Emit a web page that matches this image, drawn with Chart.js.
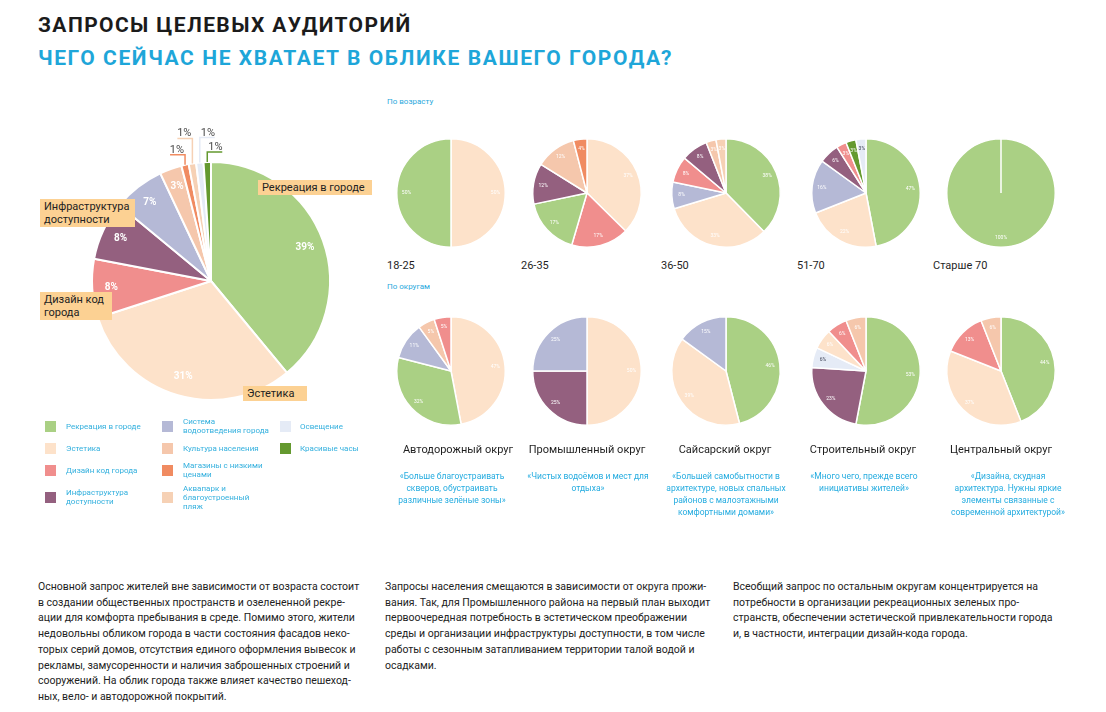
<!DOCTYPE html>
<html lang="ru">
<head>
<meta charset="utf-8">
<title>Запросы целевых аудиторий</title>
<script src="https://cdn.jsdelivr.net/npm/chart.js@4.4.0/dist/chart.umd.min.js"></script>
<style>
  body { margin: 0; width: 1106px; height: 712px; background: #fff; position: relative; overflow: hidden;
         font-family: Roboto, "Noto Sans", sans-serif; color: #222; }
  .abs { position: absolute; white-space: nowrap; }
  .title { left: 38px; top: 12px; font-size: 21px; font-weight: 700; letter-spacing: 1.4px; line-height: 26px; color: #1b1b1b; }
  .subtitle { left: 38px; top: 45px; font-size: 21px; font-weight: 700; letter-spacing: 1.6px; line-height: 26px; color: #1ea6d9; }
  .section { font-size: 8px; line-height: 10px; color: #2aa9dd; }
  .age { font-size: 11px; line-height: 14px; color: #1f1f1f; }
  .district { width: 160px; text-align: center; font-size: 11px; line-height: 14px; color: #1f1f1f; }
  .quote { width: 160px; text-align: center; font-size: 8.5px; line-height: 12px; color: #25ace0; }
  .callout { background: #fcd193; font-size: 11px; line-height: 13px; padding: 1px 4px; color: #222; z-index: 2; box-sizing: border-box; }
  .swatch { width: 11px; height: 11px; }
  .legend-text { font-size: 8px; line-height: 9px; color: #33b0de; transform: translateY(-50%); }
  .para { font-size: 10.5px; line-height: 15.7px; color: #222; }
  canvas { position: absolute; }
</style>
</head>
<body>
<div class="abs title">ЗАПРОСЫ ЦЕЛЕВЫХ АУДИТОРИЙ</div>
<div class="abs subtitle">ЧЕГО СЕЙЧАС НЕ ХВАТАЕТ В ОБЛИКЕ ВАШЕГО ГОРОДА?</div>

<div class="abs section" style="left:387px; top:97px;">По возрасту</div>
<div class="abs section" style="left:387px; top:282px;">По округам</div>

<canvas id="overallChart" width="340" height="340" style="left:41px; top:111px;"></canvas>

<div class="abs callout" style="left:258px; top:180px; width:114px;">Рекреация в городе</div>
<div class="abs callout" style="left:40px; top:199px; width:95px;">Инфраструктура<br>доступности</div>
<div class="abs callout" style="left:40px; top:292px; width:72px;">Дизайн код<br>города</div>
<div class="abs callout" style="left:243px; top:386px; width:64px;">Эстетика</div>

<div id="smallCharts"></div>
<div id="legend"></div>

<div class="abs para" style="left:38px; top:579px;">Основной запрос жителей вне зависимости от возраста состоит<br>в создании общественных пространств и озелененной рекре-<br>ации для комфорта пребывания в среде. Помимо этого, жители<br>недовольны обликом города в части состояния фасадов неко-<br>торых серий домов, отсутствия единого оформления вывесок и<br>рекламы, замусоренности и наличия заброшенных строений и<br>сооружений. На облик города также влияет качество пешеход-<br>ных, вело- и автодорожной покрытий.</div>
<div class="abs para" style="left:385px; top:579px;">Запросы населения смещаются в зависимости от округа прожи-<br>вания. Так, для Промышленного района на первый план выходит<br>первоочередная потребность в эстетическом преображении<br>среды и организации инфраструктуры доступности, в том числе<br>работы с сезонным затапливанием территории талой водой и<br>осадками.</div>
<div class="abs para" style="left:733px; top:579px;">Всеобщий запрос по остальным округам концентрируется на<br>потребности в организации рекреационных зеленых про-<br>странств, обеспечении эстетической привлекательности города<br>и, в частности, интеграции дизайн-кода города.</div>

<script>
// categories + colours
const categories = ['Рекреация в городе', 'Эстетика', 'Дизайн код города', 'Инфраструктура доступности',
    'Система водоотведения города', 'Культура населения', 'Магазины с низкими ценами',
    'Аквапарк и благоустроенный пляж', 'Освещение', 'Красивые часы'];
const categoryColors = ['#aad084', '#fde2ca', '#f08e8d', '#94607f', '#b5b9d6', '#f5c7ac', '#f08b61', '#f6d1b5', '#e5ebf6', '#64992f'];
const legendLabels = ['Рекреация в городе', 'Эстетика', 'Дизайн код города', 'Инфраструктура\nдоступности',
    'Система\nводоотведения города', 'Культура населения', 'Магазины с низкими\nценами',
    'Аквапарк и\nблагоустроенный\nпляж', 'Освещение', 'Красивые часы'];

// overall pie
const overallValues = [39, 31, 8, 8, 7, 3, 1, 1, 1, 1];

// by age
const ageGroups = ['18-25', '26-35', '36-50', '51-70', 'Старше 70'];
const age1825Labels = ['Эстетика', 'Рекреация в городе'];
const age1825Values = [50, 50];
const age2635Labels = ['Эстетика', 'Дизайн код города', 'Рекреация в городе', 'Инфраструктура доступности', 'Культура населения', 'Магазины с низкими ценами'];
const age2635Values = [37, 17, 17, 12, 12, 4];
const age3650Labels = ['Рекреация в городе', 'Эстетика', 'Система водоотведения города', 'Дизайн код города', 'Инфраструктура доступности', 'Культура населения', 'Аквапарк и благоустроенный пляж'];
const age3650Values = [38, 33, 8, 8, 8, 3, 3];
const age5170Labels = ['Рекреация в городе', 'Эстетика', 'Система водоотведения города', 'Инфраструктура доступности', 'Дизайн код города', 'Красивые часы', 'Освещение'];
const age5170Values = [47, 22, 16, 6, 3, 3, 3];
const age70Labels = ['Рекреация в городе'];
const age70Values = [100];

// by district
const districts = ['Автодорожный округ', 'Промышленный округ', 'Сайсарский округ', 'Строительный округ', 'Центральный округ'];
const districtQuotes = [
    '«Больше благоустраивать\nскверов, обустраивать\nразличные зелёные зоны»',
    '«Чистых водоёмов и мест для\nотдыха»',
    '«Большей самобытности в\nархитектуре, новых спальных\nрайонов с малоэтажными\nкомфортными домами»',
    '«Много чего, прежде всего\nинициативы жителей»',
    '«Дизайна, скудная\nархитектура. Нужны яркие\nэлементы связанные с\nсовременной архитектурой»'
];
const avtoLabels = ['Эстетика', 'Рекреация в городе', 'Система водоотведения города', 'Культура населения', 'Дизайн код города'];
const avtoValues = [47, 32, 11, 5, 5];
const promLabels = ['Эстетика', 'Инфраструктура доступности', 'Система водоотведения города'];
const promValues = [50, 25, 25];
const saisarLabels = ['Рекреация в городе', 'Эстетика', 'Система водоотведения города'];
const saisarValues = [46, 39, 15];
const stroitLabels = ['Рекреация в городе', 'Инфраструктура доступности', 'Освещение', 'Эстетика', 'Дизайн код города', 'Культура населения'];
const stroitValues = [53, 23, 6, 6, 6, 6];
const centrLabels = ['Рекреация в городе', 'Эстетика', 'Дизайн код города', 'Культура населения'];
const centrValues = [44, 37, 13, 6];

const colorOf = name => categoryColors[categories.indexOf(name)];

// percentage labels drawn on the slices (+ leader lines for the tiny ones)
const pieLabels = {
    id: 'pieLabels',
    afterDatasetsDraw(chart, args, opts) {
        const ctx = chart.ctx;
        const meta = chart.getDatasetMeta(0);
        const values = chart.data.datasets[0].data;
        const names = chart.data.labels;
        let k = 0;
        ctx.save();
        meta.data.forEach((arc, i) => {
            const v = values[i];
            const mid = (arc.startAngle + arc.endAngle) / 2;
            if (v < opts.minInside) {
                // outside label with leader line
                const c = opts.callouts[k++];
                const ax = arc.x + Math.cos(mid) * arc.outerRadius;
                const ay = arc.y + Math.sin(mid) * arc.outerRadius;
                const ly = ay - c.rise;
                ctx.strokeStyle = colorOf(names[i]);
                ctx.lineWidth = 1.5;
                ctx.beginPath();
                ctx.moveTo(ax, ay);
                ctx.lineTo(ax, ly);
                ctx.lineTo(ax + c.side * 15, ly);
                ctx.stroke();
                ctx.font = opts.outsideFont;
                ctx.fillStyle = '#4a4a4a';
                ctx.textBaseline = 'alphabetic';
                ctx.textAlign = c.side < 0 ? 'right' : 'left';
                ctx.fillText(v + '%', ax + c.side * 1, ly - 2);
                return;
            }
            const r = arc.outerRadius * opts.dist;
            ctx.font = opts.font;
            ctx.textAlign = 'center';
            ctx.textBaseline = 'middle';
            ctx.fillStyle = names[i] === 'Освещение' ? '#3d4256' : '#ffffff';
            ctx.fillText(v + '%', arc.x + Math.cos(mid) * r, arc.y + Math.sin(mid) * r);
        });
        ctx.restore();
    }
};

const makePie = (canvas, labels, values, padding, borderWidth, labelOpts) => {
    new Chart(canvas.getContext('2d'), {
        type: 'pie',
        data: {
            labels: labels,
            datasets: [{
                data: values,
                backgroundColor: labels.map(colorOf),
                borderColor: '#ffffff',
                borderWidth: borderWidth
            }]
        },
        options: {
            responsive: false,
            animation: false,
            layout: { padding: padding },
            plugins: {
                legend: { display: false },
                tooltip: { enabled: false },
                pieLabels: labelOpts
            }
        },
        plugins: [pieLabels]
    });
};

document.addEventListener('DOMContentLoaded', () => {
    // big pie
    makePie(document.getElementById('overallChart'), categories, overallValues, 50, 2, {
        dist: 0.84,
        font: 'bold 10px Roboto, sans-serif',
        minInside: 2,
        outsideFont: '11px Roboto, sans-serif',
        callouts: [{ side: -1, rise: 10 }, { side: -1, rise: 25 }, { side: 1, rise: 25 }, { side: 1, rise: 10 }]
    });

    // small pies
    const holder = document.getElementById('smallCharts');
    const centersX = [451, 587, 726, 866, 1001];
    const ageRowY = 193, districtRowY = 371;
    const ageSets = [[age1825Labels, age1825Values], [age2635Labels, age2635Values], [age3650Labels, age3650Values],
        [age5170Labels, age5170Values], [age70Labels, age70Values]];
    const districtSets = [[avtoLabels, avtoValues], [promLabels, promValues], [saisarLabels, saisarValues],
        [stroitLabels, stroitValues], [centrLabels, centrValues]];
    const ageLabelX = [387, 521, 661, 797, 933];
    const districtLabelX = [458, 587, 725, 863, 1001];
    const quoteX = [452, 588, 726, 864, 1008];

    const smallOpts = { dist: 0.82, font: '5px Roboto, sans-serif', minInside: 0 };

    const addSmall = (cx, cy, set) => {
        const c = document.createElement('canvas');
        c.width = 120; c.height = 120;
        c.style.left = (cx - 60) + 'px';
        c.style.top = (cy - 60) + 'px';
        holder.appendChild(c);
        makePie(c, set[0], set[1], 5, 1.5, smallOpts);
    };

    ageSets.forEach((set, i) => {
        addSmall(centersX[i], ageRowY, set);
        holder.insertAdjacentHTML('beforeend',
            `<div class="abs age" style="left:${ageLabelX[i]}px; top:259px;">${ageGroups[i]}</div>`);
    });
    districtSets.forEach((set, i) => {
        addSmall(centersX[i], districtRowY, set);
        holder.insertAdjacentHTML('beforeend',
            `<div class="abs district" style="left:${districtLabelX[i] - 80}px; top:443px;">${districts[i]}</div>`);
        holder.insertAdjacentHTML('beforeend',
            `<div class="abs quote" style="left:${quoteX[i] - 80}px; top:470px;">${districtQuotes[i].replace(/\n/g, '<br>')}</div>`);
    });

    // legend
    const legend = document.getElementById('legend');
    const swatchX = [45, 162, 280];
    const textX = [66, 183, 300];
    const rowY = [426, 448, 470, 497];
    categories.forEach((name, i) => {
        const col = Math.floor(i / 4), row = i % 4;
        legend.insertAdjacentHTML('beforeend', `
            <div class="abs swatch" style="left:${swatchX[col]}px; top:${rowY[row] - 5.5}px; background:${categoryColors[i]};"></div>
            <div class="abs legend-text" style="left:${textX[col]}px; top:${rowY[row]}px;">${legendLabels[i].replace(/\n/g, '<br>')}</div>
        `);
    });
});
</script>
</body>
</html>
